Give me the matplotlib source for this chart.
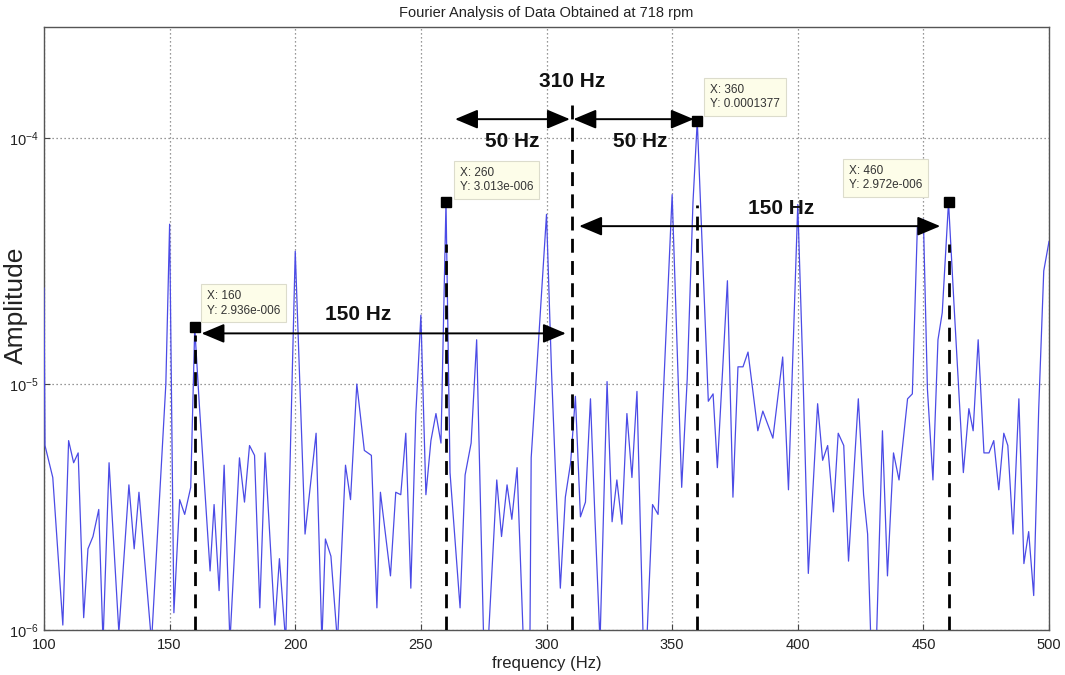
import numpy as np
import matplotlib
matplotlib.use("Agg")
import matplotlib.pyplot as plt
from matplotlib.ticker import NullLocator, FixedLocator

plt.rcParams['font.family'] = ['Liberation Sans', 'DejaVu Sans']
plt.rcParams['mathtext.fontset'] = 'custom'
plt.rcParams['mathtext.rm'] = 'Liberation Sans'
plt.rcParams['mathtext.it'] = 'Liberation Sans:italic'
plt.rcParams['mathtext.bf'] = 'Liberation Sans:bold'

# Spectrum vertices: frequency (Hz) and log10 of the amplitude
freq_hz = [
    100.0, 100.4, 103.5, 107.5, 109.8, 111.8, 113.6, 115.8, 117.5, 119.5,
    121.8, 123.5, 125.9, 129.8, 133.8, 135.9, 137.8, 142.8, 148.5, 150.0,
    151.7, 154.0, 156.0, 158.4, 160.0, 161.8, 166.1, 167.7, 169.7, 171.7,
    174.0, 177.8, 179.8, 181.8, 183.8, 185.9, 188.0, 191.9, 193.7, 196.2,
    200.0, 203.9, 208.3, 210.6, 212.0, 214.2, 216.8, 220.0, 222.0, 224.5,
    227.5, 230.3, 232.5, 233.9, 237.9, 240.0, 242.0, 244.0, 246.0, 248.0,
    250.0, 252.0, 254.0, 256.0, 258.0, 260.0, 261.6, 265.6, 267.6, 270.0,
    272.2, 275.0, 276.8, 280.2, 282.1, 284.3, 286.2, 288.3, 290.8, 293.4,
    293.9, 297.0, 300.0, 302.0, 304.0, 305.5, 307.5, 309.6, 311.5, 313.5,
    315.5, 317.5, 319.3, 321.3, 324.1, 326.1, 328.0, 330.0, 332.0, 334.0,
    336.0, 338.5, 339.9, 342.2, 344.4, 350.0, 353.8, 356.0, 358.3, 360.0,
    364.4, 366.3, 368.0, 372.0, 374.2, 376.2, 378.2, 380.2, 384.1, 386.1,
    390.1, 394.0, 396.3, 400.0, 402.0, 404.2, 407.9, 409.9, 411.9, 414.2,
    416.1, 418.3, 420.2, 424.1, 426.2, 427.8, 429.1, 431.3, 433.7, 435.7,
    438.1, 440.3, 443.7, 445.6, 447.6, 450.0, 451.6, 453.8, 455.8, 457.5,
    460.0, 462.2, 465.9, 468.1, 469.8, 471.8, 474.1, 476.1, 478.0, 480.0,
    482.0, 483.6, 485.7, 488.0, 490.0, 491.9, 493.9, 495.9, 497.9, 500.0,
]
log10_amp = [
    -4.61, -5.25, -5.38, -5.98, -5.23, -5.32, -5.28, -5.95, -5.67, -5.62,
    -5.51, -6.05, -5.32, -6.01, -5.41, -5.67, -5.44, -6.05, -5.00, -4.35,
    -5.93, -5.47, -5.53, -5.42, -4.77, -5.08, -5.76, -5.49, -5.84, -5.33,
    -6.05, -5.30, -5.48, -5.25, -5.29, -5.91, -5.28, -5.98, -5.71, -6.05,
    -4.46, -5.61, -5.20, -6.05, -5.63, -5.70, -6.05, -5.33, -5.47, -5.00,
    -5.27, -5.29, -5.91, -5.44, -5.78, -5.44, -5.45, -5.20, -5.83, -5.12,
    -4.72, -5.45, -5.23, -5.12, -5.24, -4.26, -5.36, -5.91, -5.37, -5.24,
    -4.82, -6.05, -6.05, -5.39, -5.62, -5.41, -5.55, -5.34, -6.05, -6.05,
    -5.30, -4.80, -4.31, -4.95, -5.47, -5.83, -5.46, -5.32, -5.05, -5.54,
    -5.48, -5.06, -5.55, -6.05, -4.99, -5.56, -5.39, -5.57, -5.12, -5.38,
    -5.03, -6.05, -6.05, -5.49, -5.53, -4.23, -5.42, -4.98, -4.26, -3.93,
    -5.07, -5.04, -5.34, -4.58, -5.46, -4.93, -4.93, -4.87, -5.19, -5.11,
    -5.22, -4.89, -5.43, -4.27, -4.93, -5.77, -5.08, -5.31, -5.25, -5.52,
    -5.20, -5.25, -5.72, -5.06, -5.45, -5.61, -6.05, -6.05, -5.19, -5.78,
    -5.28, -5.39, -5.06, -5.04, -4.36, -4.33, -5.02, -5.39, -4.82, -4.71,
    -4.26, -4.68, -5.36, -5.10, -5.19, -4.82, -5.28, -5.28, -5.23, -5.43,
    -5.20, -5.25, -5.61, -5.06, -5.73, -5.60, -5.86, -5.10, -4.54, -4.42,
]
amplitude = 10.0 ** np.array(log10_amp)

# Data tips
tip_freqs = [160.0, 260.0, 360.0, 460.0]
tip_texts = [
    "X: 160\nY: 2.936e-006",
    "X: 260\nY: 3.013e-006",
    "X: 360\nY: 0.0001377",
    "X: 460\nY: 2.972e-006",
]

x_ticks = [100, 150, 200, 250, 300, 350, 400, 450, 500]
y_ticks = [1e-6, 1e-5, 1e-4]
y_tick_labels = [r"$10^{-6}$", r"$10^{-5}$", r"$10^{-4}$"]

fig = plt.figure(figsize=(10.65, 6.75), dpi=100)
ax = fig.add_axes([0.0413, 0.0667, 0.9437, 0.8933])

ax.semilogy(freq_hz, amplitude, color='#4b4be6', lw=0.9, zorder=3)
ax.set_xlim(100, 500)
ax.set_ylim(1e-6, 2.83e-4)

ax.set_xticks(x_ticks)
ax.set_xticklabels([str(t) for t in x_ticks])
ax.yaxis.set_major_locator(FixedLocator(y_ticks))
ax.set_yticklabels(y_tick_labels)
ax.yaxis.set_minor_locator(NullLocator())
ax.tick_params(axis='both', which='major', direction='in', length=4,
               color='#444444', labelsize=10.5, labelcolor='#222222', pad=4)
ax.tick_params(axis='x', pad=6)
for side in ('top', 'right'):
    ax.spines[side].set_visible(True)
for sp in ax.spines.values():
    sp.set_color('#555555')
    sp.set_linewidth(1.0)

ax.grid(True, which='major', linestyle=(0, (1, 2.2)), color='#777777', lw=0.9)
ax.set_axisbelow(True)

ax.set_title("Fourier Analysis of Data Obtained at 718 rpm", fontsize=10.5,
             color='#222222', pad=7)
ax.set_xlabel("frequency (Hz)", fontsize=12, color='#222222', labelpad=3)
ax.set_ylabel("Amplitude", fontsize=19, color='#222222', va='center')
ax.yaxis.set_label_coords(-0.028, 0.539)

# Vertical dashed guide lines (frequency, top of the line in log10 units)
guides = [(160.0, -4.80), (260.0, -4.43), (310.0, -3.85),
          (360.0, -4.27), (460.0, -4.43)]
for fx, top in guides:
    ax.plot([fx, fx], [1e-6, 10 ** top], color='black', lw=2.0,
            dashes=(5, 3), zorder=4, solid_capstyle='butt')

# Markers of the data tips, taken from the spectrum itself
tip_amps = [amplitude[freq_hz.index(f)] for f in tip_freqs]
ax.plot(tip_freqs, tip_amps, linestyle='none', marker='s', ms=6.5,
        color='black', zorder=6, clip_on=False)

tip_positions = [(164.9, -4.672), (265.6, -4.171), (365.1, -3.833), (420.4, -4.163)]
for (tx, ty), txt in zip(tip_positions, tip_texts):
    ax.text(tx, 10 ** ty, txt, fontsize=8.5, color='#333333', ha='left',
            va='center', linespacing=1.25, zorder=7,
            bbox=dict(boxstyle='square,pad=0.5', fc='#fdfde9', ec='#dcdccc', lw=0.8))

# Double-headed span arrows
arrow_style = '<|-|>,head_length=1.0,head_width=0.42'
spans = [
    (263.6, 309.3, -3.923),
    (310.7, 358.6, -3.923),
    (162.7, 307.7, -4.794),
    (313.0, 456.7, -4.358),
]
for x1, x2, yy in spans:
    ax.annotate('', xy=(x2, 10 ** yy), xytext=(x1, 10 ** yy),
                arrowprops=dict(arrowstyle=arrow_style, color='black', lw=1.4,
                                shrinkA=0, shrinkB=0, mutation_scale=14),
                zorder=5)

# Span labels
labels = [
    ("310 Hz", 310.0, -3.768),
    ("50 Hz", 286.3, -4.012),
    ("50 Hz", 337.2, -4.012),
    ("150 Hz", 225.0, -4.717),
    ("150 Hz", 393.3, -4.285),
]
for txt, lx, ly in labels:
    ax.text(lx, 10 ** ly, txt, fontsize=15, fontweight='bold', color='#111111',
            ha='center', va='center', zorder=7)

fig.savefig("out.png", dpi=100)
